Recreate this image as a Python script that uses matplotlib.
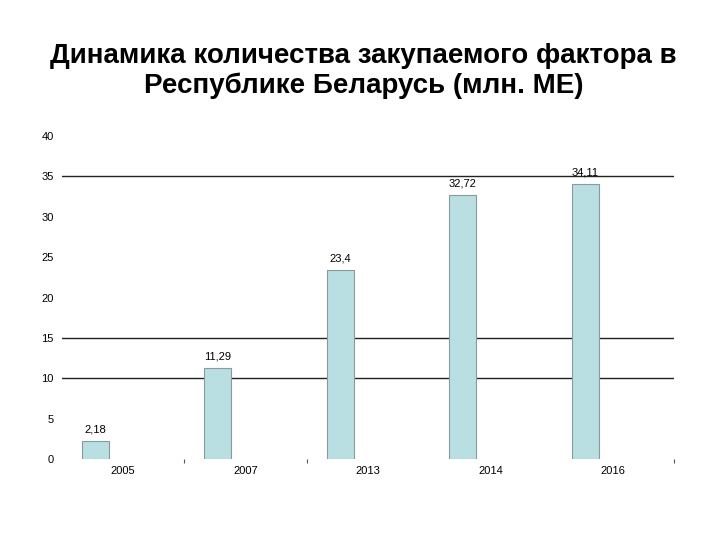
import numpy as np
import matplotlib.pyplot as plt

plt.rcParams['font.family'] = ['Liberation Sans', 'DejaVu Sans']

# data
years = ["2005", "2007", "2013", "2014", "2016"]
values = [2.18, 11.29, 23.4, 32.72, 34.11]
value_labels = ["2,18", "11,29", "23,4", "32,72", "34,11"]
grid_levels = [10, 15, 35]

fig = plt.figure(figsize=(7.2, 5.4), dpi=100)
ax = fig.add_axes([0.086, 0.15, 0.85, 0.598])

x = np.arange(len(years))
bar_x = x - 0.226
bars = ax.bar(bar_x, values, width=0.22, color="#b9dfe2", edgecolor="#8a9a9a",
              linewidth=0.8, zorder=3)

for g in grid_levels:
    ax.axhline(g, color="#222222", linewidth=1.0, zorder=1)

for bx, v, lab in zip(bar_x, values, value_labels):
    ax.text(bx, v + 0.8, lab, ha="center", va="bottom", fontsize=8)

ax.set_xlim(-0.5, len(years) - 0.5)
ax.set_ylim(0, 40)
ax.set_yticks(np.arange(0, 41, 5))
ax.set_xticks(x)
ax.set_xticklabels(years)
ax.set_xticks([0.5, 1.5, len(years) - 0.5], minor=True)
ax.tick_params(axis="y", length=0, labelsize=8, pad=6)
ax.tick_params(axis="x", which="major", length=0, labelsize=8, pad=5)
ax.tick_params(axis="x", which="minor", length=3, color="#555555", width=0.8)
for s in ax.spines.values():
    s.set_visible(False)

fig.text(0.505, 0.868, "Динамика количества закупаемого фактора в\nРеспублике Беларусь (млн. МЕ)",
         ha="center", va="center", fontsize=20, fontweight="bold", linespacing=1.17)

fig.savefig("out.png", dpi=100)
